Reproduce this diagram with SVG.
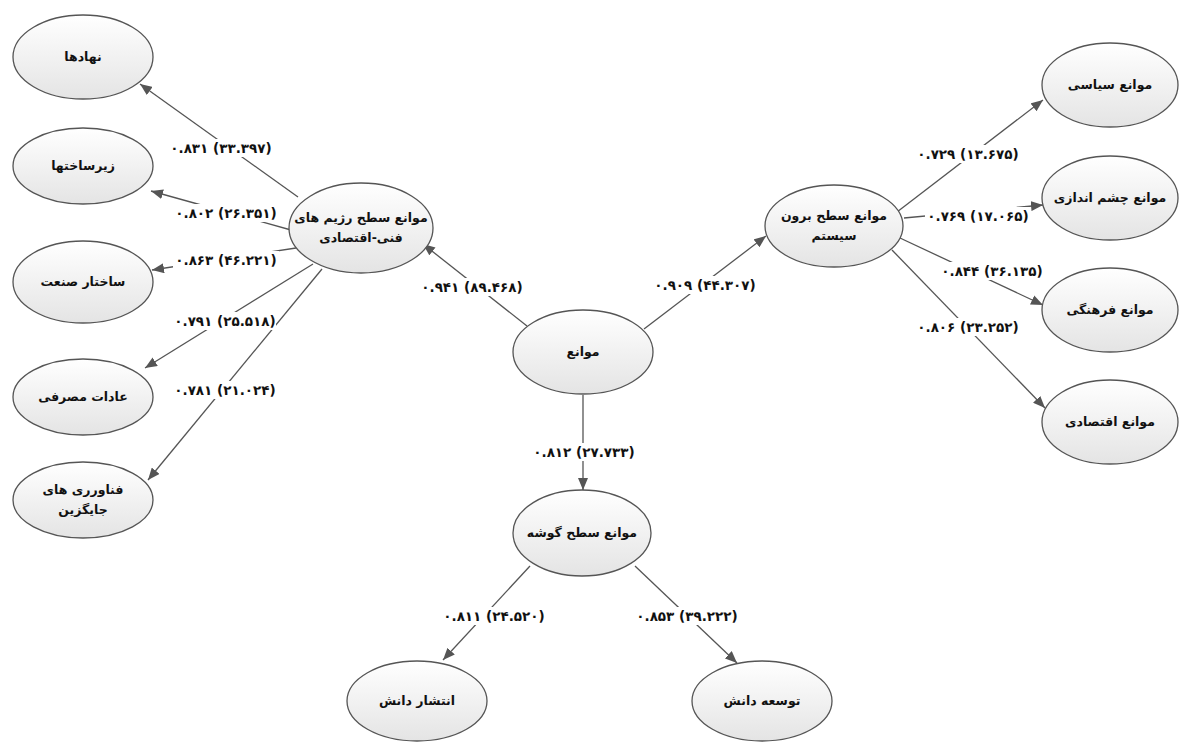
<svg xmlns="http://www.w3.org/2000/svg" width="1182" height="742" viewBox="0 0 1182 742">
<defs>
<linearGradient id="g" x1="0" y1="0" x2="0" y2="1">
<stop offset="0" stop-color="#ffffff"/>
<stop offset="1" stop-color="#e4e4e4"/>
</linearGradient>
<marker id="ah" markerUnits="userSpaceOnUse" markerWidth="12" markerHeight="10" refX="12" refY="5" orient="auto">
<path d="M0,0 L12,5 L0,10 z" fill="#555"/>
</marker>
<style>
.n ellipse{fill:url(#g);stroke:#555;stroke-width:1.3}
.n text{font-family:"DejaVu Sans","Noto Sans",sans-serif;font-weight:bold;font-size:12.5px;fill:#111;text-anchor:middle;direction:rtl}
.c line{stroke:#555;stroke-width:1.3}
.c line.a{marker-end:url(#ah)}
.l rect{fill:#fff}
.l text{font-family:"DejaVu Sans",sans-serif;font-weight:bold;font-size:13.5px;fill:#111;text-anchor:middle}
</style>
</defs>
<rect width="1182" height="742" fill="#fff"/>
<g class="c" id="connectors">
<line class="a" x1="527" y1="326" x2="423" y2="244"/>
<line class="a" x1="644" y1="329" x2="766" y2="236"/>
<line class="a" x1="583" y1="395" x2="583" y2="490"/>
<line class="a" x1="298" y1="197" x2="140" y2="84"/>
<line class="a" x1="291" y1="230" x2="151" y2="191"/>
<line class="a" x1="296" y1="248" x2="152" y2="270"/>
<line class="a" x1="313" y1="264" x2="145" y2="368"/>
<line class="a" x1="322" y1="269" x2="148" y2="480"/>
<line class="a" x1="897" y1="212" x2="1043" y2="100"/>
<line class="a" x1="904" y1="218" x2="1043" y2="205"/>
<line class="a" x1="900" y1="238" x2="1043" y2="305"/>
<line class="a" x1="892" y1="250" x2="1045" y2="408"/>
<line class="a" x1="530" y1="566" x2="443" y2="660"/>
<line class="a" x1="635" y1="566" x2="737" y2="663"/>
</g>
<g class="l" id="labels">
<rect x="419" y="278" width="106" height="18"/><text x="472" y="292">۰.۹۴۱ (۸۹.۴۶۸)</text>
<rect x="652" y="276" width="106" height="18"/><text x="705" y="290">۰.۹۰۹ (۴۴.۳۰۷)</text>
<rect x="531" y="443" width="106" height="18"/><text x="584" y="457">۰.۸۱۲ (۲۷.۷۳۳)</text>
<rect x="168" y="139" width="106" height="18"/><text x="221" y="153">۰.۸۳۱ (۳۳.۳۹۷)</text>
<rect x="173" y="204" width="106" height="18"/><text x="226" y="218">۰.۸۰۲ (۲۶.۳۵۱)</text>
<rect x="173" y="251" width="106" height="18"/><text x="226" y="265">۰.۸۶۳ (۴۶.۲۲۱)</text>
<rect x="172" y="312" width="104" height="18"/><text x="225" y="326">۰.۷۹۱ (۲۵.۵۱۸)</text>
<rect x="172" y="381" width="106" height="18"/><text x="225" y="395">۰.۷۸۱ (۲۱.۰۲۴)</text>
<rect x="915" y="145" width="106" height="18"/><text x="968" y="159">۰.۷۲۹ (۱۳.۶۷۵)</text>
<rect x="925" y="207" width="106" height="18"/><text x="978" y="221">۰.۷۶۹ (۱۷.۰۶۵)</text>
<rect x="939" y="262" width="106" height="18"/><text x="992" y="276">۰.۸۴۴ (۳۶.۱۳۵)</text>
<rect x="915" y="318" width="106" height="18"/><text x="968" y="332">۰.۸۰۶ (۲۳.۲۵۲)</text>
<rect x="441" y="607" width="106" height="18"/><text x="494" y="621">۰.۸۱۱ (۲۴.۵۲۰)</text>
<rect x="634" y="607" width="106" height="18"/><text x="687" y="621">۰.۸۵۳ (۳۹.۲۲۲)</text>
</g>
<g class="n" id="n-nahadha"><ellipse cx="83" cy="57" rx="70" ry="42"/><text x="83" y="61">نهادها</text></g>
<g class="n" id="n-zirsakhtha"><ellipse cx="83" cy="166" rx="70" ry="38"/><text x="83" y="170">زیرساختها</text></g>
<g class="n" id="n-sakhtar"><ellipse cx="83" cy="282" rx="70" ry="41"/><text x="83" y="286">ساختار صنعت</text></g>
<g class="n" id="n-adat"><ellipse cx="83" cy="397" rx="70" ry="38"/><text x="83" y="401">عادات مصرفی</text></g>
<g class="n" id="n-fanavari"><ellipse cx="83" cy="500" rx="70" ry="38"/><text x="83" y="494">فناورری های</text><text x="83" y="514">جایگزین</text></g>
<g class="n" id="n-rejim"><ellipse cx="361" cy="228" rx="72" ry="45"/><text x="361" y="222">موانع سطح رژیم های</text><text x="361" y="242">فنی-اقتصادی</text></g>
<g class="n" id="n-mavane"><ellipse cx="583" cy="352" rx="70" ry="42"/><text x="583" y="356">موانع</text></g>
<g class="n" id="n-borun"><ellipse cx="834" cy="226" rx="69" ry="41"/><text x="834" y="220">موانع سطح برون</text><text x="834" y="240">سیستم</text></g>
<g class="n" id="n-siasi"><ellipse cx="1110" cy="85" rx="68" ry="42"/><text x="1110" y="89">موانع سیاسی</text></g>
<g class="n" id="n-cheshm"><ellipse cx="1110" cy="198" rx="68" ry="42"/><text x="1110" y="202">موانع چشم اندازی</text></g>
<g class="n" id="n-farhangi"><ellipse cx="1110" cy="310" rx="68" ry="42"/><text x="1110" y="314">موانع فرهنگی</text></g>
<g class="n" id="n-eghtesadi"><ellipse cx="1110" cy="422" rx="68" ry="42"/><text x="1110" y="426">موانع اقتصادی</text></g>
<g class="n" id="n-gushe"><ellipse cx="582" cy="533" rx="69" ry="43"/><text x="582" y="537">موانع سطح گوشه</text></g>
<g class="n" id="n-enteshar"><ellipse cx="417" cy="701" rx="70" ry="40"/><text x="417" y="705">انتشار دانش</text></g>
<g class="n" id="n-tose"><ellipse cx="762" cy="701" rx="70" ry="40"/><text x="762" y="705">توسعه دانش</text></g>
</svg>
